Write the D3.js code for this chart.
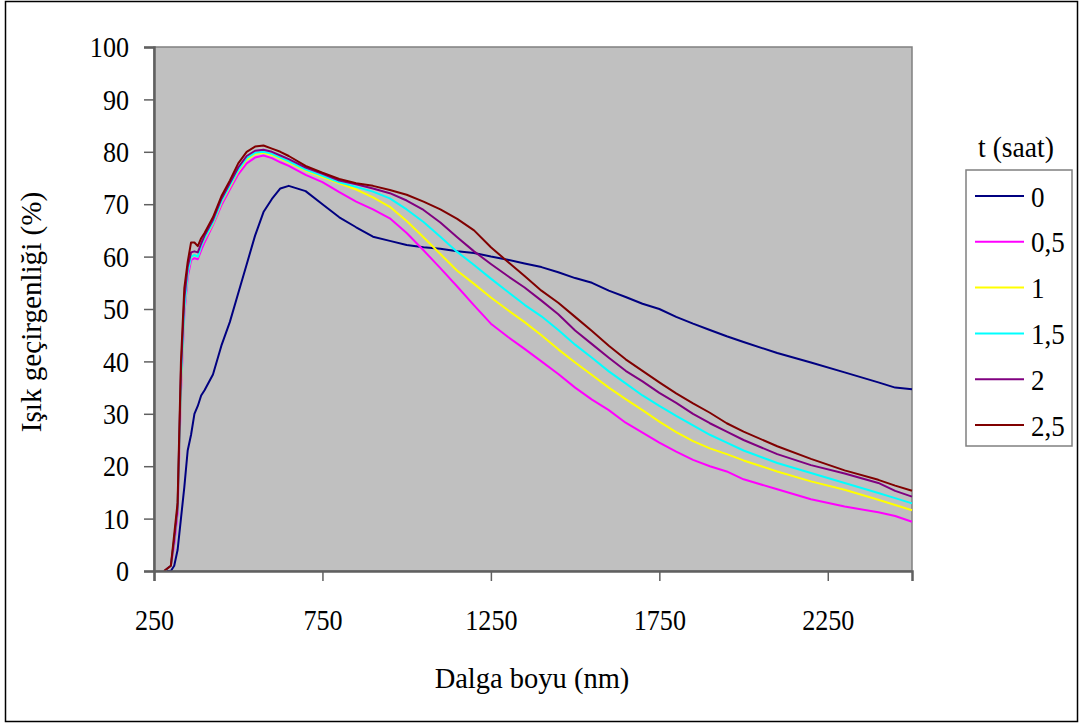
<!DOCTYPE html>
<html>
<head>
<meta charset="utf-8">
<script src="https://cdn.jsdelivr.net/npm/d3@7"></script>
<style>
  body { margin: 0; background: #fff; }
  text { font-family: "Liberation Serif", "Times New Roman", serif; fill: #000; }
</style>
</head>
<body>
<svg id="chart" width="1083" height="726"></svg>
<script>
// dalga boyu (nm)
const wl = [280, 300, 310, 320, 330, 340, 350, 360, 370, 380, 390, 400, 425, 450, 475, 500,
  525, 550, 575, 600, 625, 650, 700, 750, 800, 850, 900, 950, 1000, 1050, 1100, 1150, 1200,
  1250, 1300, 1350, 1400, 1450, 1500, 1550, 1600, 1650, 1700, 1750, 1800, 1850, 1900, 1950,
  2000, 2100, 2200, 2300, 2400, 2450, 2500];

const t0 = [0, 0, 1, 4, 10, 16, 23, 26, 30, 31.5, 33.5, 34.5, 37.5, 43, 47.5, 53,
  58.5, 64, 68.5, 71, 73, 73.5, 72.5, 70, 67.5, 65.6, 63.8, 63, 62.2, 61.8, 61.5, 61, 60.7,
  60, 59.4, 58.7, 58, 57, 55.9, 55, 53.5, 52.3, 51, 50, 48.5, 47.2, 46, 44.8,
  43.7, 41.6, 39.8, 37.9, 36, 35, 34.7];

const t05 = [0, 1, 5, 11, 34, 49, 56, 59.3, 59.7, 59.5, 61.2, 62.7, 66, 69.8, 72.8, 75.7,
  77.8, 78.9, 79.3, 78.8, 78, 77.3, 75.6, 74.2, 72.3, 70.5, 69, 67.3, 64.5, 61.2, 57.8, 54.3, 50.7,
  47.2, 44.7, 42.4, 40, 37.6, 35, 32.7, 30.7, 28.3, 26.4, 24.5, 22.8, 21.2, 20, 19,
  17.5, 15.6, 13.7, 12.3, 11.2, 10.5, 9.4];

const t1 = [0, 1, 6, 12, 35, 50, 57, 60, 60.3, 60, 62, 63.3, 66.3, 70.3, 73.3, 76.3,
  78.5, 79.6, 79.8, 79.4, 78.7, 78, 76.4, 75.2, 74, 72.8, 71.3, 69.5, 66.8, 63.7, 60.5, 57.3, 54.8,
  52.2, 49.8, 47.5, 45, 42.3, 39.8, 37.4, 35, 32.8, 30.7, 28.5, 26.5, 24.8, 23.4, 22.3,
  21.1, 19, 17.1, 15.5, 13.6, 12.6, 11.6];

const t15 = [0, 1, 6, 12, 36, 50, 57, 60, 60.3, 60, 62, 63.5, 66.5, 70.5, 73.5, 76.5,
  78.8, 79.8, 80, 79.6, 78.9, 78.2, 76.6, 75.4, 74.2, 73.3, 72.4, 71.1, 69, 66.6, 63.8, 60.9, 58.4,
  55.8, 53.3, 50.8, 48.6, 46, 43.2, 40.7, 38.1, 35.8, 33.5, 31.5, 29.6, 27.8, 26, 24.5,
  23, 20.6, 18.7, 16.8, 14.9, 13.9, 12.9];

const t2 = [0, 1, 6, 12, 38, 52, 58, 60.8, 61, 60.8, 62.5, 64, 67, 71, 74, 77,
  79.2, 80.2, 80.4, 80, 79.3, 78.6, 77, 75.8, 74.5, 73.8, 73, 72.1, 70.7, 68.9, 66.5, 63.7, 61,
  58.6, 56.3, 54.1, 51.6, 49, 45.9, 43.3, 40.7, 38.2, 36.2, 34, 32.1, 30, 28.2, 26.6,
  25, 22.3, 20.2, 18.6, 16.8, 15.3, 14.2];

const t25 = [0, 1, 7, 13, 40, 54, 59, 62.7, 62.7, 62, 63.5, 64.5, 67.5, 71.5, 74.5, 77.8,
  80, 81, 81.2, 80.6, 80, 79.2, 77.3, 76, 74.8, 74, 73.5, 72.7, 71.8, 70.5, 69, 67.2, 65,
  61.8, 59, 56.3, 53.5, 51.2, 48.5, 45.8, 43, 40.4, 38.2, 36, 33.9, 32, 30.2, 28.2,
  26.6, 23.8, 21.4, 19.2, 17.4, 16.3, 15.3];

const seriesNames = ["0", "0,5", "1", "1,5", "2", "2,5"];
const seriesValues = [t0, t05, t1, t15, t2, t25];
const seriesColors = ["#000080", "#ff00ff", "#ffff00", "#00ffff", "#800080", "#800000"];

const xTicks = [250, 750, 1250, 1750, 2250];
const yTicks = d3.range(0, 101, 10);

const FONT = 30;

// metni yatay olarak daralt (referanstaki yazılar dar ve uzun)
function squeeze(sel, k) {
  sel.each(function () {
    const w = this.getComputedTextLength();
    d3.select(this).attr("textLength", w * k).attr("lengthAdjust", "spacingAndGlyphs");
  });
}

const svg = d3.select("#chart");

// dış çerçeve
svg.append("rect")
  .attr("x", 5.5).attr("y", 1.5)
  .attr("width", 1072).attr("height", 720)
  .attr("fill", "#fff").attr("stroke", "#000").attr("stroke-width", 1.5);

const plot = { left: 154, top: 47, right: 912, bottom: 571 };

const x = d3.scaleLinear().domain([250, 2500]).range([plot.left, plot.right]);
const y = d3.scaleLinear().domain([0, 100]).range([plot.bottom, plot.top]);

// çizim alanı
svg.append("rect")
  .attr("x", plot.left).attr("y", plot.top)
  .attr("width", plot.right - plot.left).attr("height", plot.bottom - plot.top)
  .attr("fill", "#c0c0c0").attr("stroke", "#808080").attr("stroke-width", 1.5);

const line = d3.line()
  .x(d => x(d[0]))
  .y(d => y(d[1]));

svg.append("g")
  .selectAll("path")
  .data(seriesValues)
  .join("path")
  .attr("d", vals => line(wl.map((w, i) => [w, vals[i]])))
  .attr("fill", "none")
  .attr("stroke", (d, i) => seriesColors[i])
  .attr("stroke-width", 2)
  .attr("stroke-linejoin", "round");

// eksenler
const yAxis = svg.append("g")
  .attr("transform", `translate(${plot.left},0)`)
  .call(d3.axisLeft(y).tickValues(yTicks).tickSize(10).tickPadding(15).tickFormat(d3.format("d")));

const xAxis = svg.append("g")
  .attr("transform", `translate(0,${plot.bottom})`)
  .call(d3.axisBottom(x).tickValues(xTicks).tickSize(10).tickPadding(28).tickFormat(d3.format("d")));

[yAxis, xAxis].forEach(g => {
  g.select(".domain").attr("stroke", "#606060").attr("stroke-width", 2.5);
  g.selectAll(".tick line").attr("stroke", "#606060").attr("stroke-width", 1.5);
  g.selectAll(".tick text")
    .style("font-family", "Liberation Serif")
    .style("font-size", FONT + "px")
    .attr("fill", "#000")
    .call(squeeze, 0.87);
});

// eksen başlıkları
svg.append("text")
  .attr("x", 532)
  .attr("y", 688)
  .attr("text-anchor", "middle")
  .style("font-size", FONT + "px")
  .text("Dalga boyu (nm)")
  .call(squeeze, 0.95);

svg.append("text")
  .attr("transform", `translate(41,312) rotate(-90)`)
  .attr("text-anchor", "middle")
  .style("font-size", FONT + "px")
  .text("Işık geçirgenliği (%)")
  .call(squeeze, 0.97);

// lejant
const legend = svg.append("g");
legend.append("text")
  .attr("x", 1016).attr("y", 157)
  .attr("text-anchor", "middle")
  .style("font-size", FONT + "px")
  .text("t (saat)")
  .call(squeeze, 0.92);

legend.append("rect")
  .attr("x", 966).attr("y", 170)
  .attr("width", 106).attr("height", 276)
  .attr("fill", "#fff").attr("stroke", "#808080").attr("stroke-width", 1.5);

const rowY = i => 196 + i * 45.8;

legend.selectAll("line.key")
  .data(seriesNames)
  .join("line")
  .attr("class", "key")
  .attr("x1", 975).attr("x2", 1024)
  .attr("y1", (d, i) => rowY(i)).attr("y2", (d, i) => rowY(i))
  .attr("stroke", (d, i) => seriesColors[i])
  .attr("stroke-width", 2);

legend.selectAll("text.key")
  .data(seriesNames)
  .join("text")
  .attr("class", "key")
  .attr("x", 1031)
  .attr("y", (d, i) => rowY(i) + 10.5)
  .style("font-size", FONT + "px")
  .text(d => d)
  .call(squeeze, 0.9);
</script>
</body>
</html>
